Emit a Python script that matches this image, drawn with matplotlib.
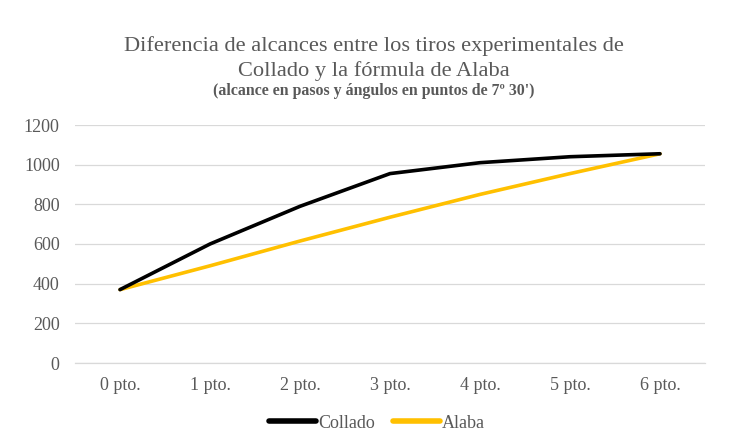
import matplotlib
matplotlib.use("Agg")
import matplotlib.pyplot as plt

categories = ["0 pto.", "1 pto.", "2 pto.", "3 pto.", "4 pto.", "5 pto.", "6 pto."]
collado = [370, 600, 790, 955, 1010, 1040, 1055]
alaba = [370, 490, 615, 735, 850, 955, 1055]
yticks = [0, 200, 400, 600, 800, 1000, 1200]

plt.rcParams["font.family"] = ["Liberation Serif", "DejaVu Serif"]
text_color = "#595959"
grid_color = "#d9d9d9"

fig = plt.figure(figsize=(7.32, 4.45), dpi=100)
ax = fig.add_axes([75 / 732, 1 - 363 / 445, 630 / 732, 238 / 445])

x = list(range(len(categories)))
ax.plot(x, collado, color="black", lw=2.6, solid_capstyle="round", label="Collado", zorder=3)
ax.plot(x, alaba, color="#FFC000", lw=2.6, solid_capstyle="round", label="Alaba", zorder=2)

ax.set_xlim(-0.5, len(categories) - 0.5)
ax.set_ylim(0, 1200)
ax.set_xticks(x)
ax.set_xticklabels(categories)
ax.set_yticks(yticks)
ax.set_yticklabels([str(v) for v in yticks])
ax.tick_params(axis="both", length=0, labelsize=13, colors=text_color)
ax.tick_params(axis="x", pad=10)
ax.tick_params(axis="y", pad=11)
ax.grid(axis="y", color=grid_color, lw=0.9)
ax.set_axisbelow(True)
for side in ("top", "right", "left"):
    ax.spines[side].set_visible(False)
ax.spines["bottom"].set_color(grid_color)
ax.spines["bottom"].set_linewidth(0.9)

cx = 374 / 732
fig.text(cx, 1 - 46 / 445, "Diferencia de alcances entre los tiros experimentales de",
         ha="center", va="center", fontsize=16.1, color=text_color)
fig.text(cx, 1 - 71 / 445, "Collado y la fórmula de Alaba",
         ha="center", va="center", fontsize=16.1, color=text_color)
fig.text(cx, 1 - 91 / 445, "(alcance en pasos y ángulos en puntos de 7º 30')",
         ha="center", va="center", fontsize=11.4, fontweight="bold", color=text_color)

leg = fig.legend(loc="center", bbox_to_anchor=(377 / 732, 1 - 423 / 445), ncol=2, frameon=False,
                 fontsize=13, handlelength=2.6, handletextpad=0.1, columnspacing=1.0)
for t in leg.get_texts():
    t.set_color(text_color)
for h in leg.get_lines():
    h.set_linewidth(4)

fig.savefig("out.png", dpi=100, facecolor="white")
